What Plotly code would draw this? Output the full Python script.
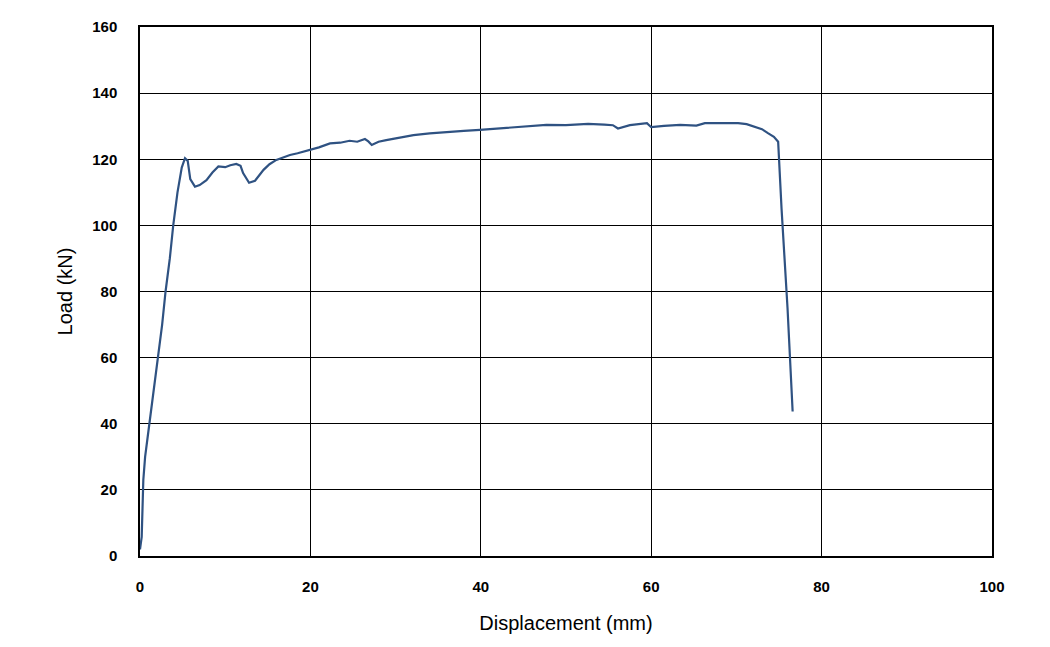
import plotly.graph_objects as go

displacement = [0.0, 0.2, 0.39, 0.6, 1.1, 1.6, 2.15, 2.6, 3.0, 3.5, 3.9, 4.4, 4.9, 5.28, 5.6, 5.9, 6.45, 7.0, 7.8, 8.5, 9.2, 10.0, 10.6, 11.3, 11.8, 12.1, 12.8, 13.5, 14.5, 15.2, 16.0, 16.8, 17.6, 18.5, 20.0, 21.0, 22.3, 23.5, 24.6, 25.5, 26.4, 26.8, 27.2, 28.0, 28.9, 30.5, 32.1, 34.0, 36.0, 38.0, 39.9, 41.5, 43.8, 45.5, 47.7, 50.0, 52.6, 54.5, 55.5, 56.1, 57.5, 59.5, 60.0, 61.5, 63.4, 65.3, 66.3, 68.0, 70.2, 71.2, 72.0, 73.0, 73.7, 74.4, 74.9, 75.3, 76.0, 76.6]
load = [2.0, 5.8, 23.0, 30.0, 40.0, 50.0, 60.0, 70.0, 80.0, 90.0, 100.0, 110.0, 117.5, 120.3, 119.5, 114.0, 111.7, 112.2, 113.7, 116.0, 117.8, 117.6, 118.2, 118.6, 118.0, 115.8, 112.9, 113.5, 116.8, 118.5, 119.8, 120.5, 121.3, 121.8, 122.8, 123.6, 124.8, 125.0, 125.6, 125.3, 126.1, 125.4, 124.3, 125.3, 125.8, 126.5, 127.3, 127.8, 128.3, 128.6, 128.9, 129.2, 129.7, 130.0, 130.4, 130.3, 130.7, 130.5, 130.3, 129.3, 130.3, 130.9, 129.7, 130.1, 130.4, 130.2, 130.9, 130.9, 130.9, 130.6, 129.9, 129.1, 127.9, 126.8, 125.3, 105.0, 75.0, 43.7]

x_ticks = [0, 20, 40, 60, 80, 100]
y_ticks = [0, 20, 40, 60, 80, 100, 120, 140, 160]

fig = go.Figure()
fig.add_trace(go.Scatter(
    x=displacement, y=load, mode="lines",
    line=dict(color="#2f5282", width=2.2),
    showlegend=False,
))

axis_common = dict(
    showgrid=True, gridcolor="black", gridwidth=1,
    showline=True, linecolor="black", linewidth=1.5, mirror=True,
    zeroline=False, ticks="",
    tickfont=dict(family="Liberation Sans", size=15, color="black"),
)

fig.update_layout(
    width=1050, height=647,
    margin=dict(l=140, r=58, t=27, b=91),
    paper_bgcolor="white", plot_bgcolor="white",
    xaxis=dict(range=[0, 100], tickvals=x_ticks, ticktext=["<b>%d</b>" % v for v in x_ticks],
               ticklabelstandoff=16,
               title=dict(text="Displacement (mm)", font=dict(family="Liberation Sans", size=20, color="black"), standoff=22),
               **axis_common),
    yaxis=dict(range=[0, 160], tickvals=y_ticks, ticktext=["<b>%d</b>" % v for v in y_ticks],
               title=dict(text="Load (kN)", font=dict(family="Liberation Sans", size=20, color="black"), standoff=14),
               ticklabelstandoff=18,
               **axis_common),
)

fig.write_html("out.html")
